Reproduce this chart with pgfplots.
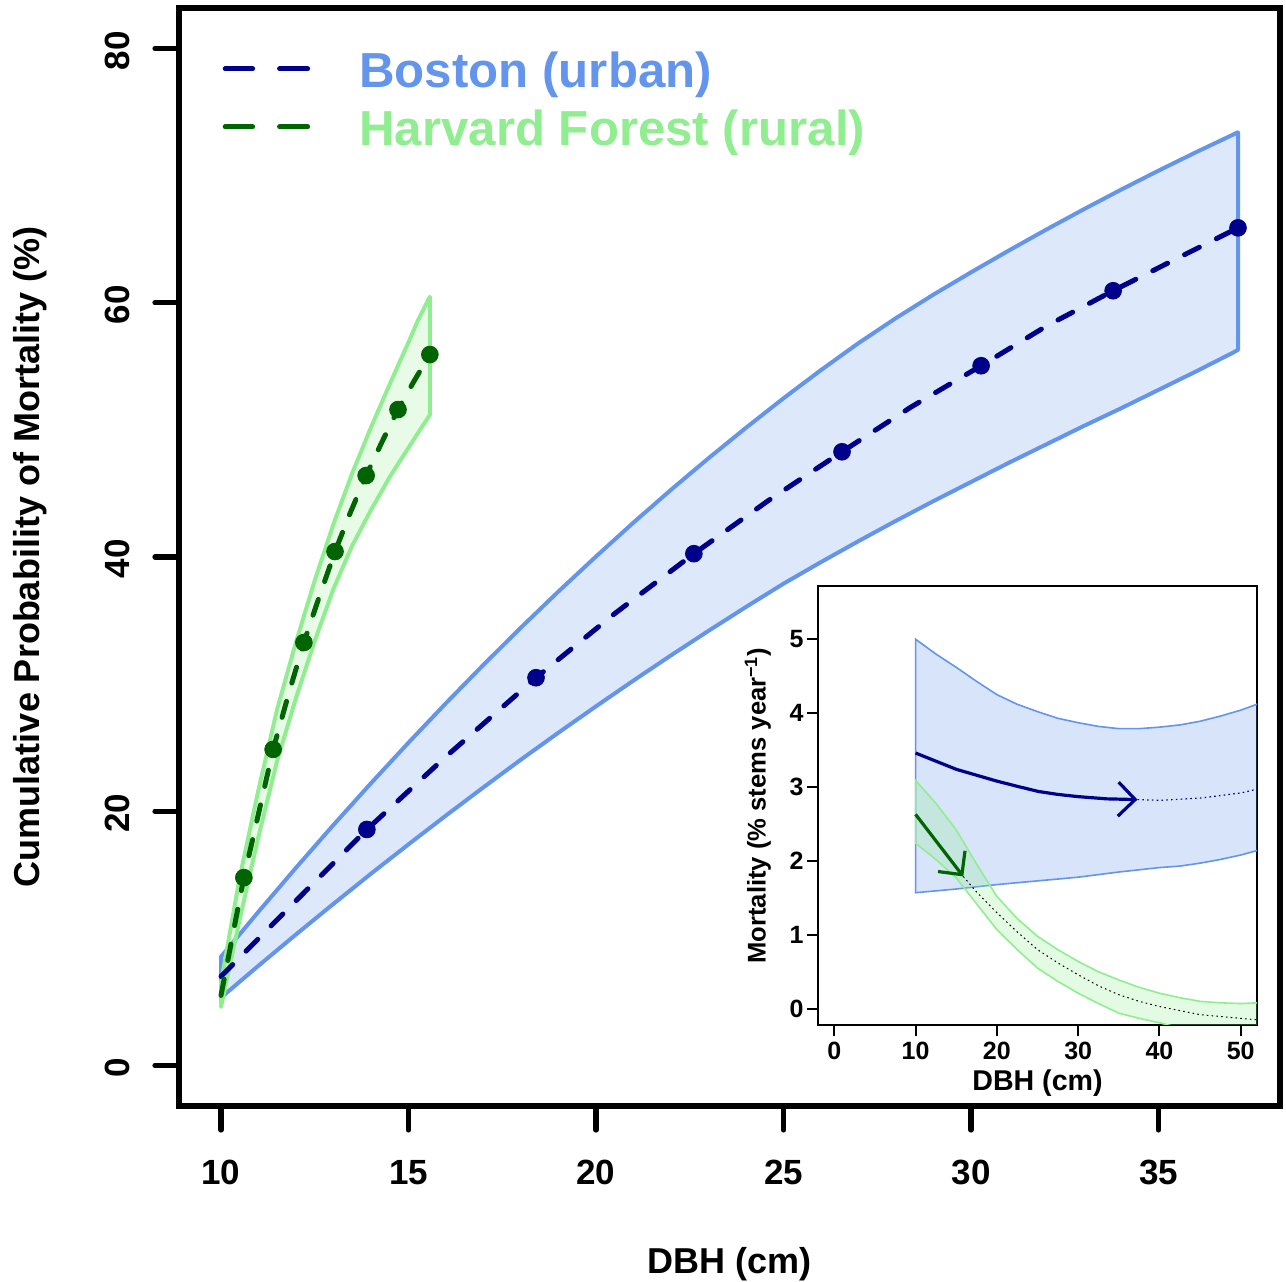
\documentclass[border=0pt]{standalone}
\usepackage{fontspec}
\setmainfont{Liberation Sans}
\usepackage{pgfplots}
\pgfplotsset{compat=1.18}
\usetikzlibrary{arrows.meta}
\definecolor{navyb}{HTML}{00008B}
\definecolor{dgreen}{HTML}{006400}
\definecolor{cblue}{HTML}{6495ED}
\definecolor{lgreen}{HTML}{90EE90}
\begin{document}
\begin{tikzpicture}
\useasboundingbox (0,0) rectangle (643pt,640.5pt);
\begin{axis}[
  at={(89.5pt,87.5pt)}, anchor=south west, scale only axis,
  width=550.5pt, height=549pt,
  xmin=8.88, xmax=38.24, ymin=-3.2, ymax=83.2,
  xtick={10,15,20,25,30,35}, ytick={0,20,40,60,80},
  axis line style={line width=3.2pt},
  tick align=outside, major tick length=12pt,
  tick style={line width=2.6pt, black, line cap=round},
  xtick pos=lower, ytick pos=left,
  /pgf/number format/assume math mode=true,
  tick label style={font=\fontsize{17.5}{20}\selectfont\bfseries},
  xticklabel style={yshift=-11.5pt},
  yticklabel style={rotate=90, anchor=south, xshift=-1pt, yshift=9pt},
  xlabel={DBH (cm)}, ylabel={Cumulative Probability of Mortality (\%)},
  xlabel style={at={(axis description cs:0.5,-0.1445)}, anchor=center, font=\fontsize{18}{21}\selectfont\bfseries},
  ylabel style={at={(axis description cs:-0.1353,0.5)}, anchor=center, font=\fontsize{18}{21}\selectfont\bfseries},
]
% Boston band
\addplot[draw=cblue, line width=2pt, fill=cblue, fill opacity=0.22, line join=round] coordinates {
 (10,8.55) (11,12.09) (12,15.55) (13,18.92) (14,22.2) (15,25.39) (16,28.5) (17,31.52) (18,34.45) (19,37.29) (20,40.04) (21,42.71) (22,45.29) (23,47.77) (24,50.17) (25,52.49) (26,54.71) (27,56.83) (28,58.8) (29,60.65) (30,62.4) (31,64.1) (32,65.75) (33,67.35) (34,68.9) (35,70.4) (36,71.85) (37,73.25) (37.12,73.42)
 (37.12,56.3) (37,56.1) (36,54.6) (35,53.15) (34,51.7) (33,50.3) (32,48.85) (31,47.4) (30,45.9) (29,44.4) (28,42.85) (27,41.25) (26,39.6) (25,37.9) (24,36.07) (23,34.19) (22,32.26) (21,30.28) (20,28.25) (19,26.18) (18,24.06) (17,21.88) (16,19.66) (15,17.39) (14,15.08) (13,12.71) (12,10.3) (11,7.84) (10,5.33)
} -- cycle;
% Harvard band
\addplot[draw=lgreen, line width=2pt, fill=lgreen, fill opacity=0.22, line join=round] coordinates {
 (10,6.5) (10.5,14.8) (11,21.7) (11.5,28.05) (12,33.3) (12.5,38.15) (13,42.6) (13.5,46.6) (14,50.2) (14.5,53.6) (15,56.9) (15.25,58.6) (15.57,60.48)
 (15.57,51.18) (15.25,49.75) (15,48.6) (14.5,46.3) (14,43.7) (13.5,40.9) (13,37.5) (12.5,33.4) (12,28.9) (11.5,24.0) (11,18.0) (10.5,11.5) (10,4.6)
} -- cycle;
% mean lines
\addplot[navyb, line width=2.5pt, line cap=round, dash pattern=on 8.3pt off 9.5pt] coordinates {
 (10,7.0) (12,12.95) (13.89,18.56) (16,24.3) (18.40,30.50) (20.5,35.55) (22.61,40.26) (24.6,44.45) (26.56,48.28) (28.4,51.8) (30.27,55.05) (32,58.15) (33.79,60.95) (35.5,63.5) (37.12,65.90)};
\addplot[dgreen, line width=2.5pt, line cap=round, dash pattern=on 8.3pt off 9.5pt] coordinates {
 (10,5.5) (10.61,14.77) (11,19.8) (11.39,24.86) (11.8,29.2) (12.21,33.27) (12.6,36.7) (13.04,40.43) (13.45,43.5) (13.87,46.41) (14.3,49.1) (14.72,51.60) (15.15,53.85) (15.57,55.93)};
% points
\addplot[only marks, mark=*, mark size=4.2pt, navyb] coordinates {
 (13.89,18.56) (18.40,30.50) (22.61,40.26) (26.56,48.28) (30.27,55.05) (33.79,60.95) (37.12,65.90)};
\addplot[only marks, mark=*, mark size=4.2pt, dgreen] coordinates {
 (10.61,14.77) (11.39,24.86) (12.21,33.27) (13.04,40.43) (13.87,46.41) (14.72,51.60) (15.57,55.93)};
\end{axis}

\begin{axis}[
  at={(409pt,128pt)}, anchor=south west, scale only axis,
  width=219.5pt, height=219.5pt,
  xmin=-2, xmax=52, ymin=-0.22, ymax=5.72,
  xtick={0,10,20,30,40,50}, ytick={0,1,2,3,4,5},
  axis background/.style={fill=white},
  axis line style={line width=1pt},
  tick align=outside, major tick length=5.5pt,
  tick style={line width=1pt, black},
  xtick pos=lower, ytick pos=left,
  /pgf/number format/assume math mode=true,
  tick label style={font=\fontsize{12.5}{14}\selectfont\bfseries, inner sep=1.5pt},
  xticklabel style={yshift=-1.5pt},
  xlabel={DBH (cm)}, ylabel={Mortality (\% stems year\textsuperscript{−1})},
  xlabel style={at={(axis description cs:0.5,-0.132)}, anchor=center, font=\fontsize{14.3}{16}\selectfont\bfseries},
  ylabel style={at={(axis description cs:-0.137,0.5)}, anchor=center, font=\fontsize{12.8}{15}\selectfont\bfseries},
]
\addplot[draw=cblue, line width=0.8pt, fill=cblue, fill opacity=0.25] coordinates {
 (10,5.0) (12.5,4.8) (15,4.62) (17.5,4.43) (20,4.25) (22.5,4.12) (25,4.02) (27.5,3.93) (30,3.87) (32.5,3.82) (35,3.79) (37.5,3.79) (40,3.81) (42.5,3.84) (45,3.89) (47.5,3.96) (50,4.04) (52,4.12) (54,4.2)
 (54,2.2) (52,2.14) (50,2.08) (47.5,2.02) (45,1.97) (42.5,1.93) (40,1.91) (35,1.85) (30,1.78) (25,1.73) (20,1.68) (15,1.62) (10,1.57)
} -- cycle;
\addplot[draw=lgreen, line width=0.8pt, fill=lgreen, fill opacity=0.25] coordinates {
 (10,3.09) (12.5,2.78) (15,2.42) (17.5,1.96) (20,1.52) (22.5,1.22) (25,0.98) (27.5,0.80) (30,0.64) (32.5,0.50) (35,0.39) (37.5,0.29) (40,0.21) (42.5,0.15) (45,0.10) (47.5,0.08) (50,0.07) (52,0.08) (54,0.08)
 (54,-0.5) (50,-0.42) (45,-0.33) (40,-0.19) (37.5,-0.13) (35,-0.06) (32.5,0.07) (30,0.21) (27.5,0.37) (25,0.55) (22.5,0.8) (20,1.07) (17.5,1.42) (15,1.77) (12.5,2.02) (10,2.24)
} -- cycle;
\addplot[navyb, line width=0.6pt, dash pattern=on 0.8pt off 1.6pt] coordinates {
 (37.3,2.83) (40,2.82) (45,2.85) (50,2.92) (52,2.97)};
\addplot[black, line width=0.5pt, dash pattern=on 0.8pt off 1.6pt] coordinates {
 (15.87,1.79) (17.5,1.58) (20,1.30) (22.5,1.04) (25,0.80) (27.5,0.62) (30,0.46) (32.5,0.31) (35,0.19) (37.5,0.10) (40,0.03) (45,-0.08) (50,-0.13) (52,-0.15)};
\addplot[navyb, line width=1.6pt, -{Straight Barb[length=8.5pt,width=17pt]}] coordinates {
 (10,3.46) (12.5,3.35) (15,3.24) (17.5,3.16) (20,3.08) (22.5,3.01) (25.1,2.94) (27.5,2.90) (30,2.87) (33.5,2.84) (37.3,2.83)};
\addplot[dgreen, line width=1.6pt, -{Straight Barb[length=8.5pt,width=17pt]}] coordinates {
 (10,2.63) (15.87,1.79)};
\end{axis}

% legend
\draw[navyb, line width=2.5pt, line cap=round] (112.6pt,606pt)--(126.3pt,606pt) (139.8pt,606pt)--(153.8pt,606pt);
\draw[dgreen, line width=2.5pt, line cap=round] (112.6pt,577pt)--(126.3pt,577pt) (139.8pt,577pt)--(153.8pt,577pt);
\node[anchor=base west, inner sep=0pt, text=cblue, font=\fontsize{24.6}{28}\selectfont\bfseries] at (179.5pt,596.5pt) {Boston (urban)};
\node[anchor=base west, inner sep=0pt, text=lgreen, font=\fontsize{24.6}{28}\selectfont\bfseries] at (179.5pt,567.6pt) {Harvard Forest (rural)};
\end{tikzpicture}
\end{document}
